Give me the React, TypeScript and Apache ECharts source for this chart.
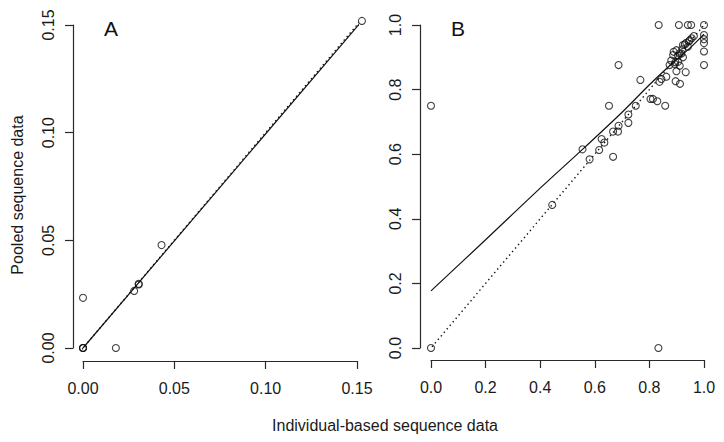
import React, { useEffect, useRef } from "react";
import * as echarts from "echarts";

// Panel A data
const aX = [0, 0, 0, 0, 0.018, 0.028, 0.0305, 0.0305, 0.043, 0.1527];
const aY = [0, 0, 0, 0.0233, 0, 0.0265, 0.0295, 0.0298, 0.0478, 0.1519];
const aFitX = [0, 0.1527];
const aFitY = [0, 0.1519];
const aDiag = [-0.0055, 0.158];

// Panel B data
const bX = [
  0, 0, 0.833, 0.444, 0.555, 0.581, 0.616, 0.625, 0.635, 0.652, 0.667, 0.667, 0.685, 0.687,
  0.687, 0.723, 0.723, 0.75, 0.767, 0.804, 0.813, 0.829, 0.858, 0.834, 0.837, 0.844, 0.862,
  0.874, 0.887, 0.893, 0.899, 0.896, 0.912, 0.911, 0.899, 0.911, 0.923, 0.933, 0.923, 0.935,
  0.941, 0.948, 0.955, 0.963, 0.908, 0.941, 0.953, 1.0, 1.0, 1.0, 1.0, 1.0, 1.0, 0.88, 0.905,
  0.889, 0.917, 0.93, 0.945, 0.92, 0.905, 0.895,
];
const bY = [
  0.75, 0, 0, 0.443, 0.615, 0.584, 0.613, 0.647, 0.636, 0.75, 0.592, 0.67, 0.67, 0.688,
  0.876, 0.697, 0.723, 0.75, 0.83, 0.771, 0.771, 0.764, 0.75, 1.0, 0.824, 0.833, 0.84,
  0.876, 0.907, 0.879, 0.857, 0.826, 0.818, 0.874, 0.922, 0.912, 0.9, 0.854, 0.938, 0.945,
  0.933, 0.953, 0.959, 0.966, 1.0, 1.0, 1.0, 1.0, 0.969, 0.956, 0.944, 0.918, 0.876, 0.89, 0.886,
  0.917, 0.912, 0.94, 0.95, 0.925, 0.905, 0.885,
];
const bFitX = [0, 0.2, 0.4, 0.555, 0.7, 0.8, 0.874, 0.95, 1.0];
const bFitY = [0.177, 0.335, 0.495, 0.615, 0.73, 0.815, 0.874, 0.93, 0.972];
const bDiag = [-0.04, 1.04];

const zip = (xs: number[], ys: number[]) => xs.map((x, i) => [x, ys[i]]);

const FONT = "Liberation Sans, Arial, sans-serif";
const AXIS_COLOR = "#2a2a2a";
const TEXT_COLOR = "#1a1a1a";

export default function App() {
  const ref = useRef<HTMLDivElement>(null);
  useEffect(() => {
    if (!ref.current) return;
    const chart = echarts.init(ref.current, null, { renderer: "svg" });
    const axisCommon = {
      type: "value" as const,
      splitLine: { show: false },
      axisLine: { show: true, onZero: false, lineStyle: { color: AXIS_COLOR, width: 1.2 } },
      axisTick: { show: true, length: 8, lineStyle: { color: AXIS_COLOR, width: 1.2 } },
    };
    const labelCommon = { color: TEXT_COLOR, fontSize: 16, fontFamily: FONT };
    const scatterStyle = {
      type: "scatter" as const,
      symbol: "circle",
      symbolSize: 7,
      clip: false,
      itemStyle: { color: "transparent", borderColor: "#111", borderWidth: 1.1 },
    };
    const lineStyle = (dotted: boolean) => ({
      type: "line" as const,
      showSymbol: false,
      clip: false,
      lineStyle: { color: "#111", width: dotted ? 1.4 : 1.2, type: dotted ? [1.4, 3.2] : "solid" },
    });
    chart.setOption({
      animation: false,
      backgroundColor: "#fff",
      grid: [
        { left: 83, top: 25, width: 274, height: 323 },
        { left: 431, top: 25, width: 273, height: 323 },
      ],
      xAxis: [
        {
          ...axisCommon,
          gridIndex: 0,
          min: 0,
          max: 0.15,
          interval: 0.05,
          offset: 13,
          axisLabel: { ...labelCommon, margin: 19, formatter: (v: number) => v.toFixed(2) },
        },
        {
          ...axisCommon,
          gridIndex: 1,
          min: 0,
          max: 1,
          interval: 0.2,
          offset: 12,
          axisLabel: { ...labelCommon, margin: 19, formatter: (v: number) => v.toFixed(1) },
        },
      ],
      yAxis: [
        {
          ...axisCommon,
          gridIndex: 0,
          min: 0,
          max: 0.15,
          interval: 0.05,
          offset: 10,
          axisLabel: { ...labelCommon, rotate: 90, margin: 17, formatter: (v: number) => v.toFixed(2) },
        },
        {
          ...axisCommon,
          gridIndex: 1,
          min: 0,
          max: 1,
          interval: 0.2,
          offset: 11,
          axisLabel: { ...labelCommon, rotate: 90, margin: 17, formatter: (v: number) => v.toFixed(1) },
        },
      ],
      series: [
        { ...lineStyle(true), xAxisIndex: 0, yAxisIndex: 0, data: zip(aDiag, aDiag) },
        { ...lineStyle(false), xAxisIndex: 0, yAxisIndex: 0, data: zip(aFitX, aFitY) },
        { ...scatterStyle, xAxisIndex: 0, yAxisIndex: 0, data: zip(aX, aY) },
        { ...lineStyle(true), xAxisIndex: 1, yAxisIndex: 1, data: zip(bDiag, bDiag) },
        { ...lineStyle(false), xAxisIndex: 1, yAxisIndex: 1, data: zip(bFitX, bFitY), smooth: 0.3 },
        { ...scatterStyle, xAxisIndex: 1, yAxisIndex: 1, data: zip(bX, bY) },
      ],
      graphic: [
        {
          type: "text",
          x: 111,
          y: 28,
          style: { text: "A", fontSize: 21, fontFamily: FONT, fill: "#111", align: "center", verticalAlign: "middle" },
        },
        {
          type: "text",
          x: 458,
          y: 28,
          style: { text: "B", fontSize: 21, fontFamily: FONT, fill: "#111", align: "center", verticalAlign: "middle" },
        },
        {
          type: "text",
          x: 17,
          y: 195,
          rotation: Math.PI / 2,
          style: {
            text: "Pooled sequence data",
            fontSize: 16,
            fontFamily: FONT,
            fill: TEXT_COLOR,
            align: "center",
            verticalAlign: "middle",
          },
        },
        {
          type: "text",
          x: 385,
          y: 425,
          style: {
            text: "Individual-based sequence data",
            fontSize: 16,
            fontFamily: FONT,
            fill: TEXT_COLOR,
            align: "center",
            verticalAlign: "middle",
          },
        },
      ],
    });
    return () => chart.dispose();
  }, []);
  return (
    <div
      ref={ref}
      style={{ position: "fixed", left: 0, top: 0, width: 724, height: 442, background: "#fff" }}
    />
  );
}
